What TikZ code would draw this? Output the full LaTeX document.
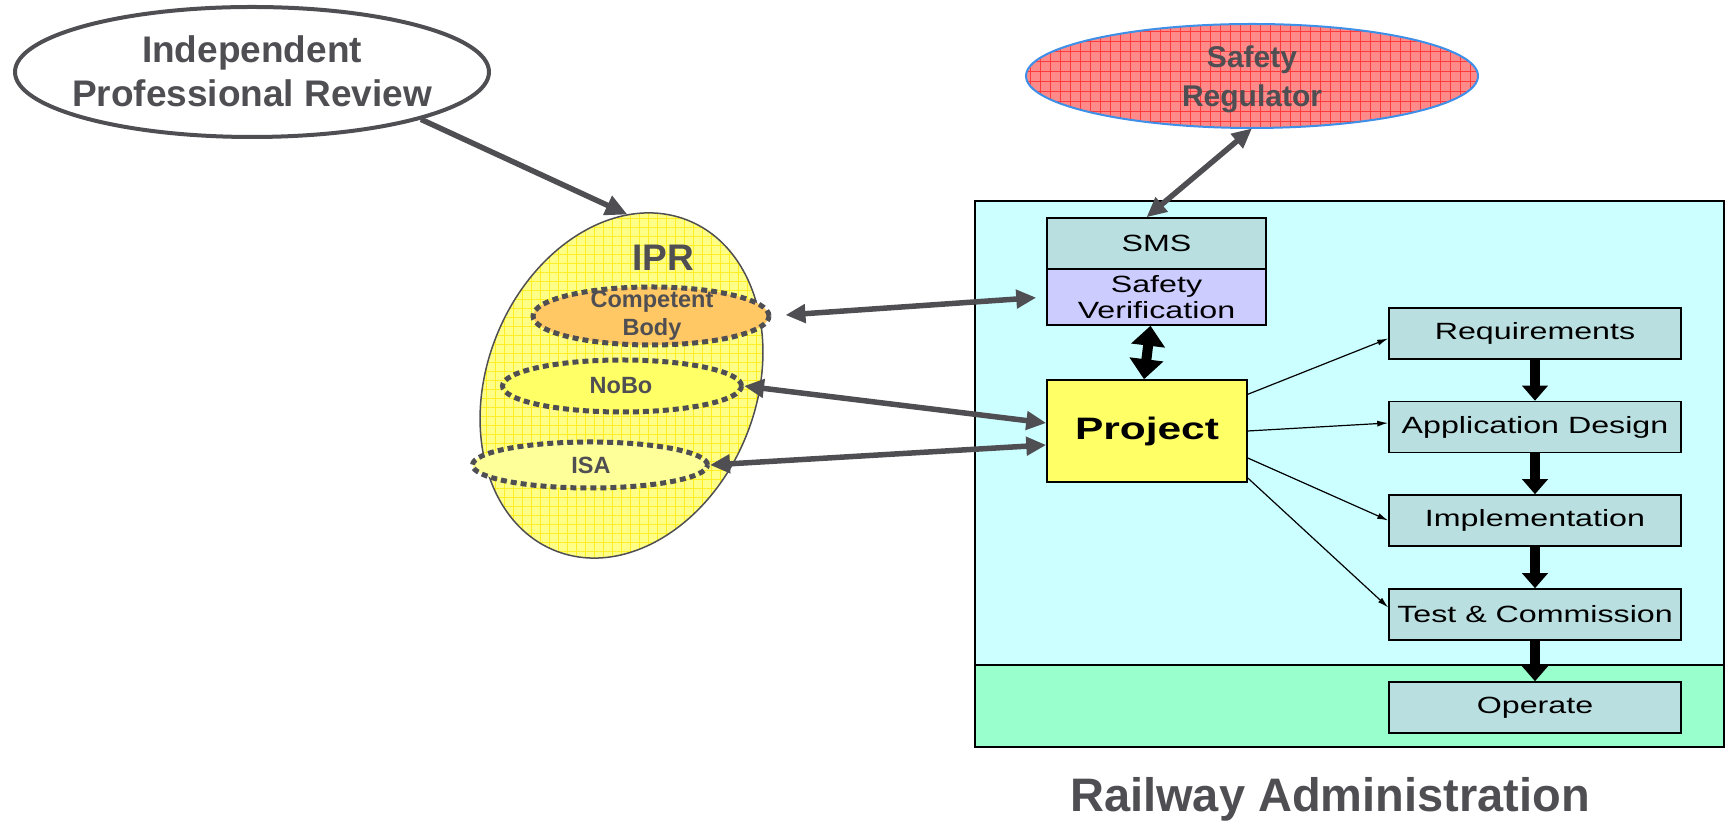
\documentclass[tikz,border=0pt]{standalone}
\usepackage{fontspec}
\setmainfont{Liberation Sans}
\newfontfamily\widefont[FakeStretch=1.37]{Liberation Sans}
\usepackage{tikz}
\usetikzlibrary{shapes.geometric, arrows.meta, patterns.meta}

\definecolor{textgray}{HTML}{4F4F53}
\definecolor{arrowgray}{HTML}{4F4F53}
\definecolor{cyanbg}{HTML}{CCFFFF}
\definecolor{greenbg}{HTML}{99FFCC}
\definecolor{boxteal}{HTML}{BADFE1}
\definecolor{svlilac}{HTML}{CCCCFF}
\definecolor{projyellow}{HTML}{FFFF66}
\definecolor{iprfill}{HTML}{FFFF88}
\definecolor{iprgrid}{HTML}{FFEE22}
\definecolor{regfill}{HTML}{FF8A8A}
\definecolor{reggrid}{HTML}{FF3A3A}
\definecolor{regblue}{HTML}{3D8FE8}
\definecolor{cborange}{HTML}{FFC864}
\definecolor{nobofill}{HTML}{FFFF66}
\definecolor{isafill}{HTML}{FFFF99}

\tikzset{
	stage/.style={shape=rectangle, draw=black, line width=1.5pt, fill=boxteal, minimum width=292pt, minimum height=51pt, inner sep=0pt, font=\widefont\fontsize{23.5}{26}\selectfont},
	member/.style={shape=ellipse, draw=arrowgray, line width=5pt, dash pattern=on 6pt off 4pt, inner sep=0pt},
	greytext/.style={text=textgray, font=\bfseries\fontsize{23.5}{28}\selectfont, align=center, inner sep=0pt},
	twoway/.style={color=arrowgray, line width=5.5pt, {Triangle[length=20pt,width=18pt]}-{Triangle[length=20pt,width=18pt]}},
	oneway/.style={color=arrowgray, line width=5.5pt, -{Triangle[length=22pt,width=20pt]}},
	flow/.style={color=black, line width=1.2pt, -{Latex[length=11pt,width=6pt]}},
	stepdown/.style={color=black, line width=10pt, -{Triangle[length=15pt,width=25pt]}},
	stepboth/.style={color=black, line width=10pt, {Triangle[length=20pt,width=33pt]}-{Triangle[length=20pt,width=33pt]}},
}

\begin{document}
\begin{tikzpicture}[x=1pt, y=1pt]
	\useasboundingbox (0, 0) rectangle (1725, 821);

	% railway administration
	\draw[fill=cyanbg, line width=1.5pt] (975, 74) rectangle (1724, 620);
	\draw[fill=greenbg, line width=1.5pt] (975, 74) rectangle (1724, 156);

	\node[stage, minimum width=219pt] (sms) at (1156.5, 577.5) {SMS};
	\node[stage, minimum width=219pt, minimum height=56pt, fill=svlilac, align=center] (sv) at (1156.5, 524) {Safety\\Verification};
	\node[stage, minimum width=200pt, minimum height=102pt, fill=projyellow, font=\widefont\bfseries\fontsize{31}{34}\selectfont] (proj) at (1147, 390) {Project};

	\node[stage] (req)     at (1535, 487.5) {Requirements};
	\node[stage] (design)  at (1535, 394)   {Application Design};
	\node[stage] (impl)    at (1535, 300.5) {Implementation};
	\node[stage] (test)    at (1535, 206.5) {Test \& Commission};
	\node[stage] (operate) at (1535, 113.5) {Operate};

	\node[greytext, anchor=base, font=\bfseries\fontsize{47}{50}\selectfont] (railway) at (1330, 9) {Railway Administration};

	% reviewers and regulator
	\node[shape=ellipse, draw=arrowgray, line width=4pt, fill=white, minimum width=474pt, minimum height=130pt] (ipr) at (252, 749) {};
	\node[greytext, font=\bfseries\fontsize{37}{44}\selectfont] (iprlabel) at (252, 750) {Independent\\Professional Review};

	\node[shape=ellipse, draw=regblue, line width=2pt, preaction={fill=regfill}, pattern={Hatch[distance=10pt, line width=0.8pt]}, pattern color=reggrid, minimum width=452pt, minimum height=104pt] (reg) at (1252, 745) {};
	\node[greytext, font=\bfseries\fontsize{30}{39}\selectfont] (reglabel) at (1252, 742) {Safety\\Regulator};

	\node[shape=ellipse, rotate=-22, draw=arrowgray, line width=1.5pt, preaction={fill=iprfill}, pattern={Hatch[distance=9pt, line width=0.8pt]}, pattern color=iprgrid, minimum width=269pt, minimum height=356pt] (body) at (621.5, 435.5) {};
	\node[greytext, font=\bfseries\fontsize{37}{40}\selectfont] (iprname) at (663, 563) {IPR};

	\node[member, fill=cborange, minimum width=236pt, minimum height=58pt] (cb) at (651, 505) {};
	\node[greytext] (cblabel) at (652, 505) {Competent\\Body};
	\node[member, fill=nobofill, minimum width=239pt, minimum height=52pt] (nobo) at (622, 435) {};
	\node[greytext] (nobolabel) at (621, 435) {NoBo};
	\node[member, fill=isafill, minimum width=235pt, minimum height=46pt] (isa) at (590, 356) {};
	\node[greytext] (isalabel) at (591, 356) {ISA};

	% connectors
	\path[oneway] (ipr.south east) edge (body.110);
	\path[twoway] (reg.south) edge ([xshift=-10pt]sms.north);
	\path[twoway, shorten <=14pt, shorten >=10pt] (cb.east) edge (sv.west);
	\path[twoway] (nobo.east) edge ([yshift=8pt]proj.west);
	\path[twoway] (isa.east) edge ([yshift=-14pt]proj.west);
	\path[stepboth] ([xshift=-6pt]sv.south) edge ([xshift=-3pt]proj.north);

	\path[flow] (proj.20) edge ([yshift=-5pt]req.west);
	\path[flow] (proj.0) edge ([yshift=4pt]design.west);
	\path[flow] (proj.-15) edge (impl.west);
	\path[flow] (proj.-25) edge ([yshift=7pt]test.west);

	\path[stepdown] (req) edge (design);
	\path[stepdown] (design) edge (impl);
	\path[stepdown] (impl) edge (test);
	\path[stepdown] (test) edge (operate);
\end{tikzpicture}
\end{document}
